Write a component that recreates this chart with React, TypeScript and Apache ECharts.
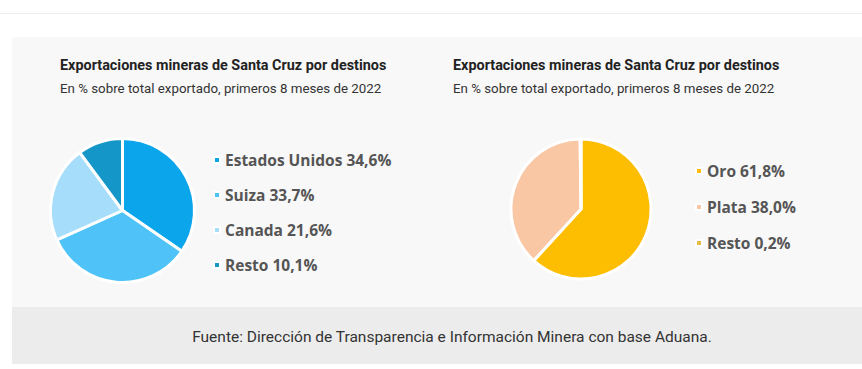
import React, { useEffect, useRef } from "react";
import * as echarts from "echarts";

const TITLE = "Exportaciones mineras de Santa Cruz por destinos";
const SUBTITLE = "En % sobre total exportado, primeros 8 meses de 2022";
const SOURCE = "Fuente: Dirección de Transparencia e Información Minera con base Aduana.";

const destCategories = ["Estados Unidos", "Suiza", "Canada", "Resto"];
const destValues = [34.6, 33.7, 21.6, 10.1];
const destColors = ["#0ba5ec", "#4fc3f7", "#a6ddfa", "#1596c9"];

const metalCategories = ["Oro", "Plata", "Resto "];
const metalValues = [61.8, 38.0, 0.2];
const metalColors = ["#fdbd00", "#f9c7a3", "#e9b949"];

const fmt = (v: number) => v.toFixed(1).replace(".", ",") + "%";

export default function App() {
  const ref = useRef<HTMLDivElement>(null);
  useEffect(() => {
    if (!ref.current) return;
    const chart = echarts.init(ref.current, null, { renderer: "svg" });
    const lookup: Record<string, number> = {};
    destCategories.forEach((c, i) => (lookup[c] = destValues[i]));
    metalCategories.forEach((c, i) => (lookup[c] = metalValues[i]));
    const legendText = {
      fontFamily: "Open Sans",
      fontSize: 15.5,
      fontWeight: "bold" as const,
      color: "#555555",
      lineHeight: 16,
    };
    chart.setOption({
      animation: false,
      backgroundColor: "#ffffff",
      graphic: [
        { type: "line", shape: { x1: 0, y1: 13.5, x2: 862, y2: 13.5 }, style: { stroke: "#ececec", lineWidth: 1 }, silent: true, z: -10 },
        { type: "rect", shape: { x: 12, y: 37, width: 850, height: 270 }, style: { fill: "#f8f8f8" }, silent: true, z: -10 },
        { type: "rect", shape: { x: 12, y: 307, width: 850, height: 57 }, style: { fill: "#ececec" }, silent: true, z: -10 },
        { type: "text", x: 60, y: 65, style: { text: TITLE, fontFamily: "Roboto", fontSize: 14.4, fontWeight: "bold", fill: "#222222", verticalAlign: "middle" } },
        { type: "text", x: 60, y: 88, style: { text: SUBTITLE, fontFamily: "Roboto", fontSize: 13.3, fill: "#333333", verticalAlign: "middle" } },
        { type: "text", x: 453, y: 65, style: { text: TITLE, fontFamily: "Roboto", fontSize: 14.4, fontWeight: "bold", fill: "#222222", verticalAlign: "middle" } },
        { type: "text", x: 453, y: 88, style: { text: SUBTITLE, fontFamily: "Roboto", fontSize: 13.3, fill: "#333333", verticalAlign: "middle" } },
        { type: "text", x: 452, y: 337, style: { text: SOURCE, fontFamily: "Roboto", fontSize: 15.5, fill: "#333333", align: "center", verticalAlign: "middle" } },
      ],
      legend: [
        {
          data: destCategories,
          orient: "vertical",
          left: 208,
          top: 147,
          icon: "rect",
          itemWidth: 6,
          itemHeight: 6,
          itemGap: 19,
          selectedMode: false,
          textStyle: legendText,
          formatter: (n: string) => n.trim() + " " + fmt(lookup[n]),
        },
        {
          data: metalCategories,
          orient: "vertical",
          left: 690,
          top: 158,
          icon: "rect",
          itemWidth: 6,
          itemHeight: 6,
          itemGap: 20,
          selectedMode: false,
          textStyle: legendText,
          formatter: (n: string) => n.trim() + " " + fmt(lookup[n]),
        },
      ],
      series: [
        {
          type: "pie",
          center: [122.5, 210.5],
          radius: [0, 72],
          startAngle: 90,
          label: { show: false },
          labelLine: { show: false },
          silent: true,
          itemStyle: { borderColor: "#ffffff", borderWidth: 3 },
          data: destCategories.map((c, i) => ({ name: c, value: destValues[i], itemStyle: { color: destColors[i] } })),
        },
        {
          type: "pie",
          center: [581, 209],
          radius: [0, 70],
          startAngle: 90,
          label: { show: false },
          labelLine: { show: false },
          silent: true,
          itemStyle: { borderColor: "#ffffff", borderWidth: 3 },
          data: metalCategories.map((c, i) => ({ name: c, value: metalValues[i], itemStyle: { color: metalColors[i] } })),
        },
      ],
    });
    return () => chart.dispose();
  }, []);
  return <div ref={ref} style={{ position: "fixed", left: 0, top: 0, width: 862, height: 369 }} />;
}
